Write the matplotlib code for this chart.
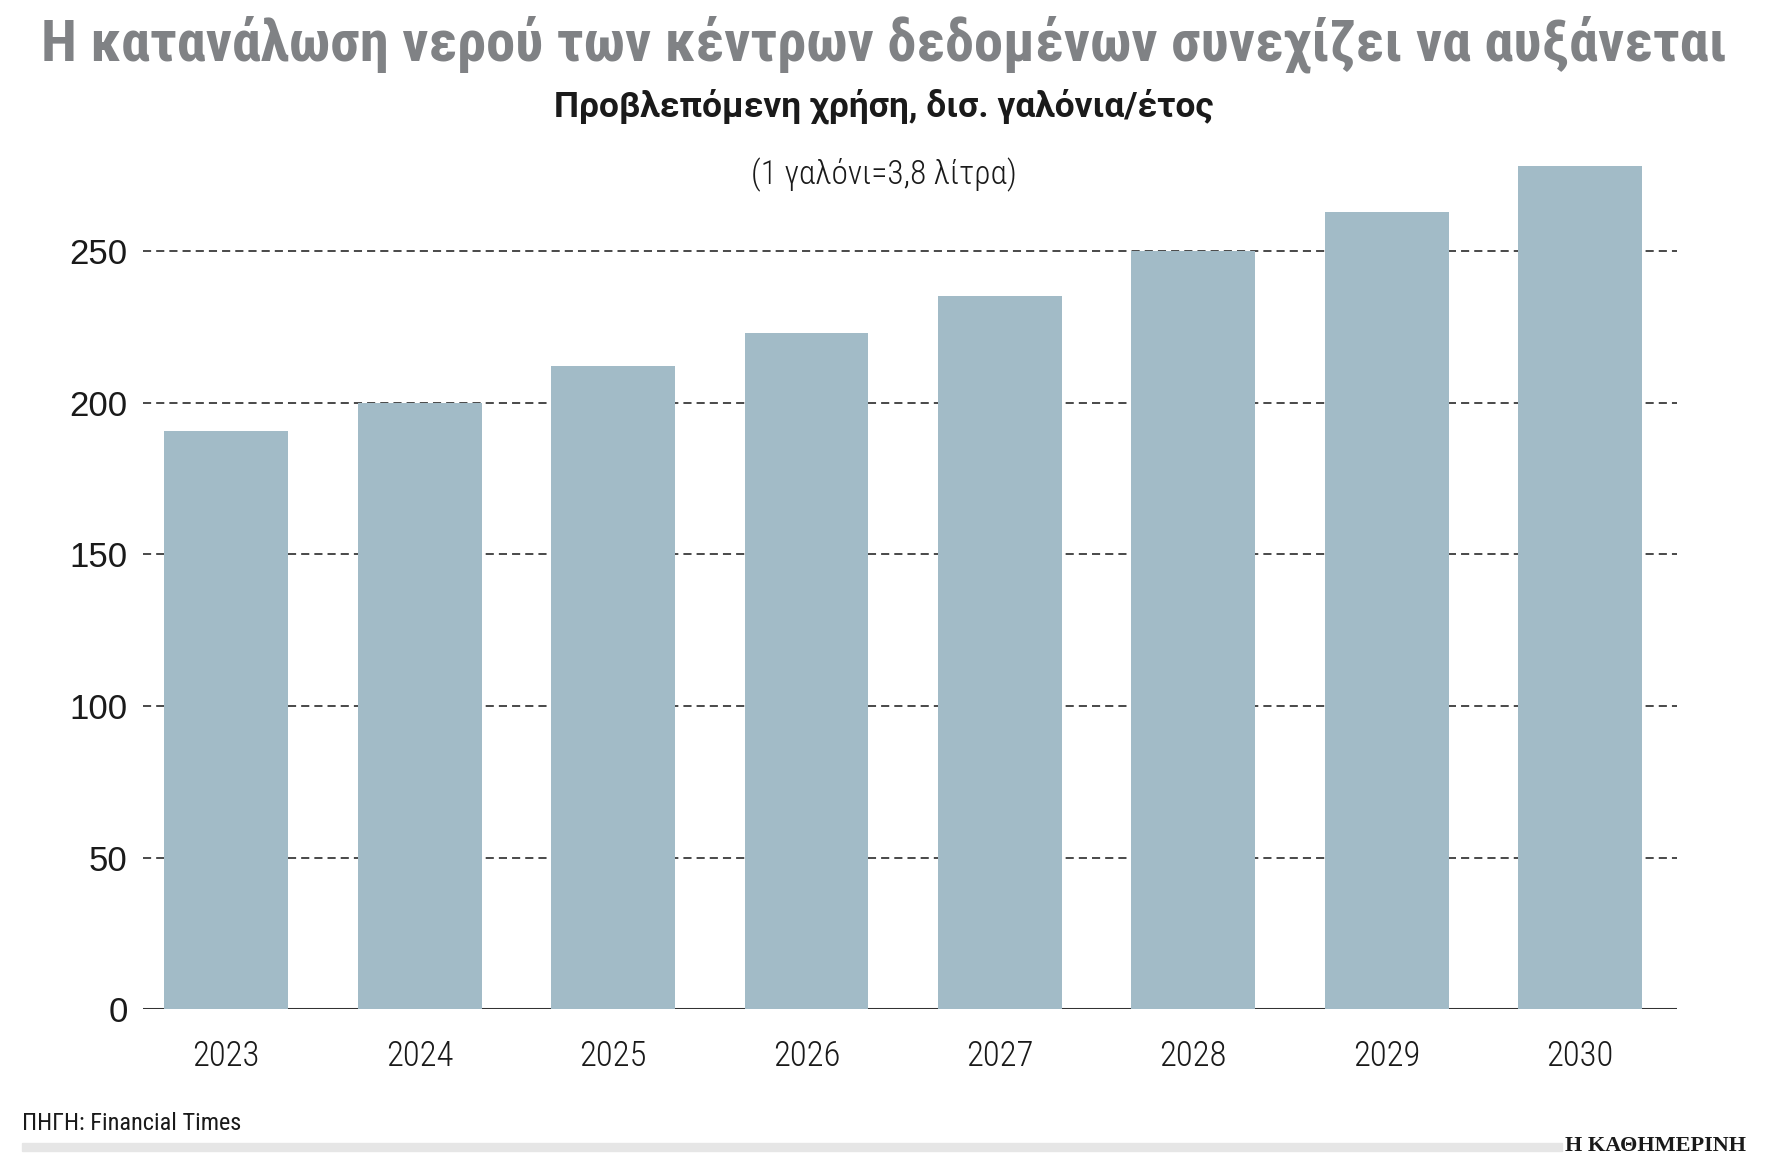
import matplotlib
matplotlib.use("Agg")
import matplotlib.pyplot as plt
from matplotlib import font_manager

# data (billion gallons / year)
years = ['2023', '2024', '2025', '2026', '2027', '2028', '2029', '2030']
usage = [190.5, 200, 212, 223, 235, 250, 263, 278]
yticks = [0, 50, 100, 150, 200, 250]

title = "Η κατανάλωση νερού των κέντρων δεδομένων συνεχίζει να αυξάνεται"
subtitle = "Προβλεπόμενη χρήση, δισ. γαλόνια/έτος"
note = "(1 γαλόνι=3,8 λίτρα)"
source = "ΠΗΓΗ: Financial Times"
brand = "Η ΚΑΘΗΜΕΡΙΝΗ"

# pick a narrow font if there is one
names = {f.name for f in font_manager.fontManager.ttflist}
def pick(*cands):
    for c in cands:
        if c in names:
            return c
    return 'DejaVu Sans'

cond = pick('Roboto Condensed', 'Open Sans Condensed', 'Liberation Sans Narrow', 'Roboto')
wide = pick('Roboto', 'Open Sans', 'DejaVu Sans')

bar_color = '#a2bbc7'
grid_color = '#3a3a3a'

fig = plt.figure(figsize=(17.92, 11.68), dpi=100)
ax = fig.add_axes([0.0798, 0.136, 0.9358 - 0.0798, 0.863 - 0.136])

x = list(range(len(years)))
ax.bar(x, usage, width=0.64, color=bar_color, zorder=3)

ax.set_xlim(-0.43, 7.5)
ax.set_ylim(0, 280)
ax.set_yticks(yticks)
ax.set_xticks(x)
ax.set_xticklabels(years)

for v in yticks[1:]:
    ax.axhline(v, color=grid_color, lw=1.3, linestyle=(0, (4.5, 2.8)), zorder=1)
ax.axhline(0, color='#333333', lw=2.2, zorder=2)

for s in ax.spines.values():
    s.set_visible(False)

ax.tick_params(axis='y', length=0, pad=11, labelsize=25, labelcolor='#1a1a1a')
ax.tick_params(axis='x', length=0, pad=22, labelsize=25, labelcolor='#1a1a1a')
for lab in ax.get_yticklabels():
    lab.set_fontfamily('Liberation Sans')
    lab.set_verticalalignment('center_baseline')
for lab in ax.get_xticklabels():
    lab.set_fontfamily(cond)
    lab.set_fontweight('light')

fig.text(0.493, 0.962, title, ha='center', va='center', fontsize=42,
         fontweight='bold', color='#808285', family=cond)
fig.text(0.493, 0.909, subtitle, ha='center', va='center', fontsize=25.5,
         fontweight='bold', color='#1a1a1a', family=wide)
fig.text(0.493, 0.850, note, ha='center', va='center', fontsize=24,
         fontweight='light', color='#1a1a1a', family=cond)

fig.text(0.0123, 0.0377, source, ha='left', va='center', fontsize=17.5,
         color='#1a1a1a', family=cond)
fig.patches.append(plt.Rectangle((0.0123, 0.0146), 0.8594, 0.0068,
                                 transform=fig.transFigure, color='#e6e6e6'))
fig.text(0.9743, 0.0145, brand, ha='right', va='baseline', fontsize=16,
         fontweight='bold', color='#1a1a1a', family='Liberation Serif')

fig.savefig('out.png', dpi=100, facecolor='white')
